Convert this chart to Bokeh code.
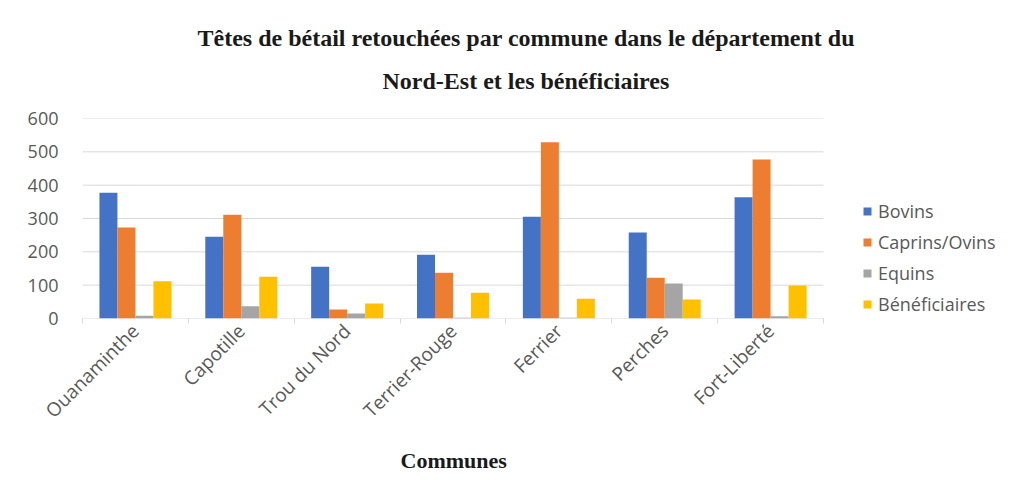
from math import pi
from bokeh.plotting import figure
from bokeh.models import (ColumnDataSource, Range1d, LinearAxis,
                          FixedTicker, Legend, LegendItem, Title)
from bokeh.transform import dodge
from bokeh.embed import file_html
from bokeh.resources import INLINE

communes = ["Ouanaminthe", "Capotille", "Trou du Nord", "Terrier-Rouge", "Ferrier", "Perches", "Fort-Liberté"]
bovins = [377, 245, 155, 191, 305, 258, 364]
caprins_ovins = [273, 311, 27, 137, 529, 122, 477]
equins = [8, 37, 15, 2, 2, 105, 7]
beneficiaires = [112, 125, 45, 77, 59, 57, 99]
y_ticks = [0, 100, 200, 300, 400, 500, 600]

series_names = ["Bovins", "Caprins/Ovins", "Equins", "Bénéficiaires"]
series_cols = ["bovins", "caprins", "equins", "benef"]
colors = ["#4472C4", "#ED7D31", "#A5A5A5", "#FFC000"]
offsets = [-0.255, -0.085, 0.085, 0.255]

title_line1 = "Têtes de bétail retouchées par commune dans le département du"
title_line2 = "Nord-Est et les bénéficiaires"
x_title = "Communes"

n = len(communes)
centers = [i + 0.5 for i in range(n)]
source = ColumnDataSource(dict(xc=centers, bovins=bovins, caprins=caprins_ovins,
                               equins=equins, benef=beneficiaires))

TXT = "#595959"
GRID = "#d9d9d9"

# plotting area is wider than the bars so the legend can sit at the right
p = figure(x_range=Range1d(0, n * 926 / 741), y_range=Range1d(0, 600),
           width=1024, height=482, output_backend="svg", toolbar_location=None,
           x_axis_location=None, min_border_left=82, min_border_right=16,
           min_border_top=118, min_border_bottom=164)
p.outline_line_color = None
p.background_fill_color = "white"
p.border_fill_color = "white"
p.xgrid.visible = False
p.ygrid.visible = False

# horizontal gridlines spanning only the category area
p.segment(x0=0, x1=n, y0=y_ticks, y1=y_ticks, line_color=GRID, line_width=1)

renderers = []
for col, c, off in zip(series_cols, colors, offsets):
    r = p.vbar(x=dodge("xc", off), top=col, width=0.17,
               source=source, fill_color=c, line_color=None)
    renderers.append(r)

# y axis
yax = p.yaxis[0]
yax.ticker = FixedTicker(ticks=y_ticks)
yax.axis_line_color = None
yax.major_tick_line_color = None
yax.minor_tick_line_color = None
yax.major_label_text_font = "Open Sans"
yax.major_label_text_font_size = "18px"
yax.major_label_text_color = TXT
yax.major_label_standoff = 18

# category axis: labels at centers, small ticks at category boundaries
cax = LinearAxis(ticker=FixedTicker(ticks=centers, minor_ticks=list(range(n + 1))),
                 major_label_overrides={c: name for c, name in zip(centers, communes)},
                 axis_line_color=None, major_tick_line_color=None,
                 minor_tick_line_color=GRID, minor_tick_in=0, minor_tick_out=5,
                 major_tick_in=0, major_tick_out=5,
                 major_label_orientation=pi / 4,
                 major_label_text_font="Open Sans",
                 major_label_text_font_size="19px",
                 major_label_text_color=TXT,
                 major_label_standoff=4)
p.add_layout(cax, "below")

# x axis title, centred under the categories
p.add_layout(Title(text=x_title, align="left", offset=318, text_font="Liberation Serif",
                   text_font_style="bold", text_font_size="22px", text_color="#1a1a1a",
                   standoff=20), "below")

# titles (second line added first: nearest the plot)
p.add_layout(Title(text=title_line2, align="left", offset=300, text_font="Liberation Serif",
                   text_font_style="bold", text_font_size="24px", text_color="#1a1a1a",
                   standoff=49), "above")
p.add_layout(Title(text=title_line1, align="left", offset=115, text_font="Liberation Serif",
                   text_font_style="bold", text_font_size="24px", text_color="#1a1a1a",
                   standoff=-19), "above")

legend = Legend(items=[LegendItem(label=nm, renderers=[r]) for nm, r in zip(series_names, renderers)],
                location=(780, 2), padding=0, margin=0, border_line_color=None,
                background_fill_alpha=0, glyph_width=10, glyph_height=10,
                label_height=20, spacing=7, label_standoff=6,
                label_text_font="Open Sans", label_text_font_size="18px",
                label_text_color=TXT)
p.add_layout(legend, "center")

open("out.html", "w").write(file_html(p, INLINE))
